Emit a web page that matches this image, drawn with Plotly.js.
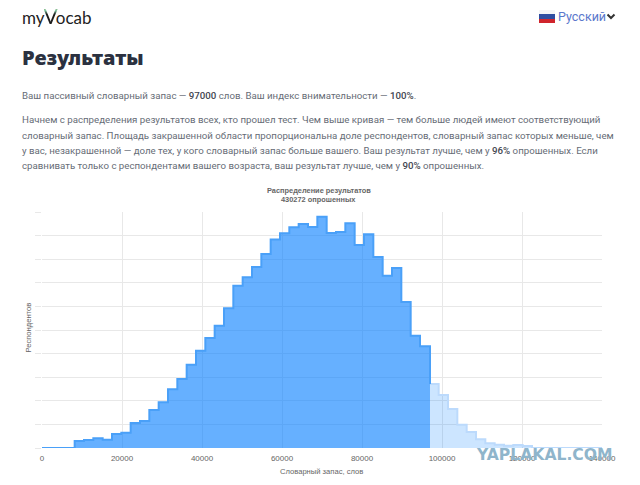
<!DOCTYPE html>
<html><head><meta charset="utf-8">
<script src="https://cdn.plot.ly/plotly-3.0.1.min.js"></script>
<style>
html,body{margin:0;padding:0;background:#fff;width:640px;height:485px;overflow:hidden}
#chart{position:absolute;left:0;top:0;width:640px;height:485px}
.t{position:absolute;white-space:nowrap;font-family:"Roboto","Open Sans",sans-serif;color:#666c76;font-size:9.7px;line-height:14px}
.t b{color:#3f4650;font-weight:500}
</style></head><body>
<div id="chart"></div>
<div class="t" style="left:22px;top:4px;font-size:17px;line-height:24px;color:#222;font-family:'Lato'">my<span style="font-size:21px;background:linear-gradient(#e8a34a 0,#7cc4a0 30%,#1c1c1c 45%);-webkit-background-clip:text;background-clip:text;color:transparent;margin-left:-1px;margin-right:-2px">V</span>ocab</div>
<div class="t" style="left:22px;top:44px;font-size:20px;line-height:28px;font-weight:900;color:#2b3140;font-family:'Noto Sans'">Результаты</div>
<div class="t" style="left:22px;top:89px">Ваш пассивный словарный запас — <b>97000</b> слов. Ваш индекс внимательности — <b>100%</b>.</div>
<div class="t" style="left:22px;top:113px">Начнем с распределения результатов всех, кто прошел тест. Чем выше кривая — тем больше людей имеют соответствующий</div>
<div class="t" style="left:22px;top:129px">словарный запас. Площадь закрашенной области пропорциональна доле респондентов, словарный запас которых меньше, чем</div>
<div class="t" style="left:22px;top:144px">у вас, незакрашенной — доле тех, у кого словарный запас больше вашего. Ваш результат лучше, чем у <b>96%</b> опрошенных. Если</div>
<div class="t" style="left:22px;top:159px">сравнивать только с респондентами вашего возраста, ваш результат лучше, чем у <b>90%</b> опрошенных.</div>
<div style="position:absolute;left:539px;top:10px;width:16px;height:13px;background:linear-gradient(#f4f4f6 0 33%,#2f4da0 33% 66%,#d0242c 66%)"></div>
<div class="t" style="left:558px;top:9px;font-size:12.5px;line-height:16px;color:#5b78cc">Русский</div>
<svg style="position:absolute;left:606px;top:13px" width="10" height="8"><polyline points="1.5,1.5 5,5 8.5,1.5" fill="none" stroke="#333" stroke-width="2"/></svg>
<script>
const binStarts = [0,1167,3500,5833,8167,10500,12833,15167,17500,19833,22167,24500,26833,29167,31500,33833,36167,38500,40833,43167,45500,47833,50167,52500,54833,57167,59500,61833,64167,66500,68833,71167,73500,75833,78167,80500,82833,85167,87500,89833,92167,94500];
const belowYou = [0,0,0,0,3.0,3.4,4.1,3.5,5.9,6.5,10.6,11.4,16.1,19.4,24.9,29.2,35.3,41.2,46.6,51.8,59.2,68.8,72.3,76.7,82.2,88.3,91,93.5,94.9,93.6,98,91.1,91.5,95.2,86,90.6,80.9,73,76.3,61.9,47.6,43.1];
const yourScore = 97000;
const aboveStarts = [97000,99167,101500,103833,106167,108500,110833,113167,115500,117833,120167,122500,124833,140000];
const aboveYou = [27.1,22.5,16.5,9.9,6.8,3.7,2,1.4,1,1.3,0.8,0,0,0];
const xTicks = [0,20000,40000,60000,80000,100000,120000,140000];
const yGrid = [0,10,20,30,40,50,60,70,80,90,100];

const dark = {x:binStarts.concat([yourScore]), y:belowYou.concat([aboveYou[0]]), mode:'lines', line:{shape:'hv',width:2,color:'#4aa0f8'}, fill:'tozeroy', fillcolor:'rgba(0,123,255,0.6)', hoverinfo:'skip'};
const light = {x:aboveStarts, y:aboveYou, mode:'lines', line:{shape:'hv',width:2,color:'#bcdafc'}, fill:'tozeroy', fillcolor:'rgba(0,123,255,0.2)', hoverinfo:'skip'};
const tf = {family:'Liberation Sans, Arial, sans-serif', size:8, color:'#666'};
const W = 640-42.3-38, H = 235.7;
const px = v => (v-42.3)/W, py = v => (448-v)/H;
const ann = (x,y,text,font,angle) => ({xref:'paper',yref:'paper',x:px(x),y:py(y),xanchor:'center',yanchor:'middle',text,showarrow:false,font,textangle:angle||0});
const titleFont = {family:'Liberation Sans',size:7.4,color:'#666'};
const layout = {
  width:640,height:485,showlegend:false,paper_bgcolor:'rgba(0,0,0,0)',plot_bgcolor:'rgba(0,0,0,0)',
  margin:{l:42.3,r:38,t:212.3,b:37,pad:0},
  xaxis:{range:[0,140000],tickvals:xTicks,ticktext:xTicks.map(String),showgrid:true,gridcolor:'#e8e8e8',gridwidth:1,zeroline:false,showline:false,ticks:'outside',ticklen:2,tickcolor:'rgba(0,0,0,0)',tickfont:tf},
  yaxis:{range:[0,100],tickvals:yGrid,showticklabels:false,showgrid:true,gridcolor:'#e8e8e8',gridwidth:1,zeroline:false,showline:false,ticks:'outside',ticklen:6,tickcolor:'#e8e8e8',tickwidth:1},
  annotations:[
    ann(319,191,'<b>Распределение результатов</b>',titleFont),
    ann(319,200,'<b>430272 опрошенных</b>',titleFont),
    ann(29,328,'Респондентов',{family:'Liberation Sans',size:7.6,color:'#666'},-90),
    ann(322,471,'Словарный запас, слов',{family:'Liberation Sans',size:7.6,color:'#666'}),
    ann(545,455,'<b>YAPLAKAL.COM</b>',{family:'DejaVu Sans',size:15.6,color:'#8fb5cb'})
  ]
};
Plotly.newPlot('chart',[light,dark],layout,{displayModeBar:false,staticPlot:true});
</script>
</body></html>
